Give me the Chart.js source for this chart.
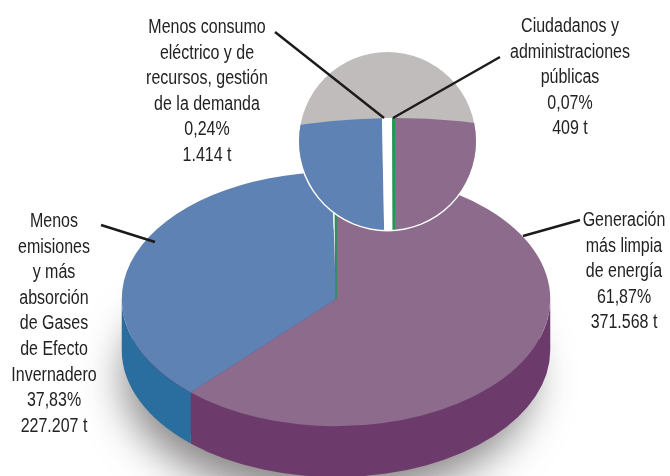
<!DOCTYPE html>
<html>
<head>
<meta charset="utf-8">
<title>Reducción de emisiones</title>
<script src="https://cdn.jsdelivr.net/npm/chart.js@4"></script>
<style>
  html, body { margin: 0; padding: 0; background: #fff; }
  #page { position: relative; width: 670px; height: 476px; overflow: hidden; background: #fff; }
  #big { position: absolute; left: 0; top: 0; }
  #disc { position: absolute; left: 299px; top: 52px; width: 177px; height: 178px; border-radius: 50%;
          overflow: hidden; background: #bfbcbb; box-shadow: 0 0 0 1.5px #fff; }
  #zoom { position: absolute; left: -574px; top: 66px; }
  #lines { position: absolute; left: 0; top: 0; }
  .label { position: absolute; transform: translateX(-50%) scaleX(0.82); text-align: center; white-space: nowrap;
           font: 19.5px/25.6px "Liberation Sans", sans-serif; color: #232221; }
</style>
</head>
<body>
<div id="page">
  <canvas id="big" width="670" height="600"></canvas>
  <div id="disc"><canvas id="zoom" width="1340" height="1340"></canvas></div>
  <svg id="lines" width="670" height="476"></svg>
</div>
<script>
// order is clockwise from the top of the pie
const categories = [
  ["Generación", "más limpia", "de energía"],
  ["Menos", "emisiones", "y más", "absorción", "de Gases", "de Efecto", "Invernadero"],
  ["Menos consumo", "eléctrico y de", "recursos, gestión", "de la demanda"],
  ["Ciudadanos y", "administraciones", "públicas"]
];
const shares = [61.87, 37.83, 0.24, 0.07];
const shareLabels = ["61,87%", "37,83%", "0,24%", "0,07%"];
const tonnes = ["371.568 t", "227.207 t", "1.414 t", "409 t"];

const topColors = ["#8d6b8d", "#5f82b4", "#ffffff", "#1f9a4e"];
const sideColors = ["#6c3b6b", "#2a6d9f", "#ffffff", "#1f9a4e"];

// where each text block sits: centre x, top y
const labelPos = [[624, 207], [54, 208], [207, 14], [570, 13]];
const leaders = [
  [580, 220, 523, 236],
  [101, 225, 155, 242],
  [275, 32, 384, 118],
  [500, 57, 393, 118]
];

const squash = 127 / 214;
const depth = 51;

// tilts the pie into an ellipse and builds the side wall under it
const tilt = {
  id: "tilt",
  beforeDatasetsDraw(chart) {
    const ctx = chart.ctx;
    const arcs = chart.getDatasetMeta(0).data;
    const cy = arcs[0].y;
    const drop = depth / squash;
    ctx.save();
    ctx.translate(0, cy);
    ctx.scale(1, squash);
    ctx.translate(0, -cy);

    ctx.save();
    ctx.shadowColor = "rgba(60,55,55,0.6)";
    ctx.shadowBlur = 40;
    ctx.shadowOffsetX = -8;
    ctx.shadowOffsetY = 28;
    ctx.fillStyle = sideColors[0];
    ctx.beginPath();
    ctx.arc(arcs[0].x, cy + drop, arcs[0].outerRadius - 10, 0, Math.PI * 2);
    ctx.fill();
    ctx.restore();

    // only the front half of the wall can be seen
    arcs.forEach((arc, i) => {
      const a = Math.max(arc.startAngle, 0);
      const b = Math.min(arc.endAngle, Math.PI);
      if (a >= b) return;
      ctx.fillStyle = sideColors[i];
      ctx.beginPath();
      ctx.arc(arc.x, arc.y, arc.outerRadius, a, b);
      ctx.arc(arc.x, arc.y + drop, arc.outerRadius, b, a, true);
      ctx.closePath();
      ctx.fill();
    });
  },
  afterDatasetsDraw(chart) {
    chart.ctx.restore();
  }
};

const pieOptions = padding => ({
  responsive: false,
  animation: false,
  layout: { padding: padding },
  plugins: { legend: { display: false }, tooltip: { enabled: false } }
});

new Chart(document.getElementById("big"), {
  type: "pie",
  data: {
    labels: categories.map(c => c.join(" ")),
    datasets: [{
      data: shares,
      backgroundColor: topColors,
      borderColor: topColors,
      borderWidth: [0, 0, 0, 1.5],
      clip: false
    }]
  },
  options: pieOptions({ left: 121, right: 119, top: 84, bottom: 86 }),
  plugins: [tilt]
});

// same pie at a huge radius, seen through the round window of #disc
new Chart(document.getElementById("zoom"), {
  type: "pie",
  data: {
    labels: categories.map(c => c.join(" ")),
    datasets: [{ data: shares, backgroundColor: topColors, borderWidth: 0 }]
  },
  options: pieOptions(0)
});

const page = document.getElementById("page");
categories.forEach((lines, i) => {
  const div = document.createElement("div");
  div.className = "label";
  div.style.left = labelPos[i][0] + "px";
  div.style.top = labelPos[i][1] + "px";
  div.innerHTML = lines.concat(shareLabels[i], tonnes[i]).join("<br>");
  page.appendChild(div);
});

const svg = document.getElementById("lines");
leaders.forEach(l => {
  const line = document.createElementNS("http://www.w3.org/2000/svg", "line");
  line.setAttribute("x1", l[0]);
  line.setAttribute("y1", l[1]);
  line.setAttribute("x2", l[2]);
  line.setAttribute("y2", l[3]);
  line.setAttribute("stroke", "#1c1a1a");
  line.setAttribute("stroke-width", "2.4");
  svg.appendChild(line);
});
</script>
</body>
</html>
